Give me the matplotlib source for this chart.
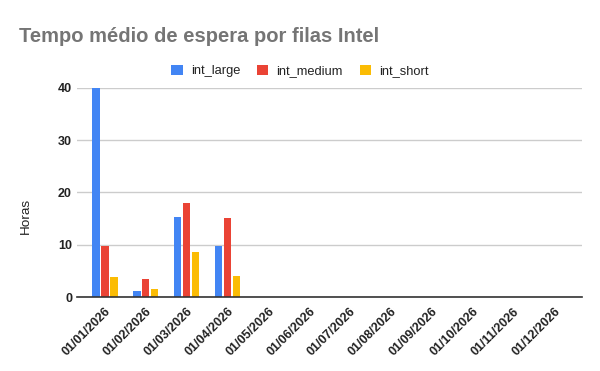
import matplotlib
matplotlib.use('Agg')
import matplotlib.pyplot as plt
import numpy as np

months = ["01/01/2026", "01/02/2026", "01/03/2026", "01/04/2026", "01/05/2026", "01/06/2026",
          "01/07/2026", "01/08/2026", "01/09/2026", "01/10/2026", "01/11/2026", "01/12/2026"]
int_large = [40.0, 1.2, 15.4, 9.7, 0, 0, 0, 0, 0, 0, 0, 0]
int_medium = [9.8, 3.5, 17.9, 15.2, 0, 0, 0, 0, 0, 0, 0, 0]
int_short = [3.9, 1.6, 8.6, 4.0, 0, 0, 0, 0, 0, 0, 0, 0]

plt.rcParams['font.family'] = ['Liberation Sans', 'DejaVu Sans']

fig = plt.figure(figsize=(6, 3.71), dpi=100)
ax = fig.add_axes([77/600, 1 - 297/371, 505/600, 209/371])

x = np.arange(len(months))
w = 0.18
off = 0.22
ax.bar(x - off, int_large, w, color="#4285F4", label="int_large")
ax.bar(x, int_medium, w, color="#EA4335", label="int_medium")
ax.bar(x + off, int_short, w, color="#FBBC04", label="int_short")

ax.set_xlim(-0.686, 11.686)
ax.set_ylim(0, 40)
ax.set_yticks([0, 10, 20, 30, 40])
ax.yaxis.grid(True, color="#cccccc", linewidth=1)
ax.set_axisbelow(True)
for s in ["top", "right", "left"]:
    ax.spines[s].set_visible(False)
ax.spines["bottom"].set_color("#333333")
ax.spines["bottom"].set_linewidth(1.2)
ax.spines["bottom"].set_zorder(5)
ax.tick_params(length=0)
ax.tick_params(axis='y', pad=3.6)
ax.tick_params(axis='x', pad=6)
ax.set_xticks(x)
ax.set_xticklabels(months, rotation=45, ha='right', rotation_mode='anchor',
                   fontsize=9, fontweight='bold', color="#222222")
for lab in ax.get_yticklabels():
    lab.set_fontsize(9)
    lab.set_fontweight('bold')
    lab.set_color("#222222")

fig.text(26/600, 1 - 216/371, "Horas", fontsize=9.7, color="#222222",
         rotation=90, ha='center', va='center')

fig.text(19/600, 1 - 36/371, "Tempo médio de espera por filas Intel", fontsize=14.5,
         fontweight='bold', color="#757575", va='center', ha='left')

fig.legend(loc='center', bbox_to_anchor=(300/600, 1 - 71/371), ncol=3, frameon=False,
           fontsize=9.3, handlelength=0.89, handleheight=0.89, handletextpad=0.62,
           columnspacing=1.3, labelcolor="#222222")

plt.savefig("out.png", dpi=100)
plt.close()
